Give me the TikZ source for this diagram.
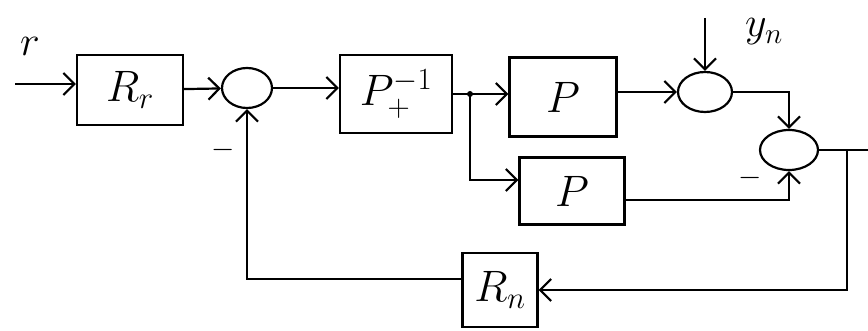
\RequirePackage{fix-cm}
\documentclass[tikz,border=0pt]{standalone}
\usetikzlibrary{arrows.meta,shapes.geometric}
\begin{document}
\begin{tikzpicture}[x=1pt,y=-1pt,
  line width=2.2pt,
  blk/.style={draw,rectangle,inner sep=0pt,font=\fontsize{44}{50}\selectfont},
  sumnode/.style={draw,ellipse,inner sep=0pt},
  arr/.style={-{Straight Barb[length=11pt,width=22pt,line width=2.2pt]}},
  lbl/.style={font=\fontsize{42}{48}\selectfont},
  minus/.style={font=\fontsize{30}{34}\selectfont}]
\useasboundingbox (0,0) rectangle (868,331);
% blocks
\node[blk,minimum width=106pt,minimum height=70pt] (Rr) at (130,90) {$R_r$};
\node[sumnode,minimum width=50pt,minimum height=40pt] (S1) at (247,88) {};
\node[blk,minimum width=112pt,minimum height=78pt] (Pinv) at (396,94) {$P_+^{-1}$};
\node[blk,minimum width=107pt,minimum height=79pt] (Ptop) at (563,97) {$P$};
\node[blk,minimum width=105pt,minimum height=67pt] (Pbot) at (572,191) {$P$};
\node[sumnode,minimum width=54pt,minimum height=40pt] (S2) at (705,92) {};
\node[sumnode,minimum width=58pt,minimum height=40pt] (S3) at (789,150) {};
\node[blk,minimum width=75pt,minimum height=74pt] (Rn) at (500,290) {$R_n$};
% labels
\node[lbl] (rl) at (30,46) {$r$};
\node[lbl] (ynl) at (764,32) {$y_n$};
\node[minus] (m1) at (223,150) {$-$};
\node[minus] (m2) at (750,178) {$-$};
% coordinates
\coordinate (in) at (15,84);
\coordinate (J) at (470,94);
\coordinate (yn) at (705,18);
\coordinate (out) at (868,150);
\coordinate (B) at (847,150);
% connectors
\draw[arr] (in) -- (in -| Rr.west);
\draw[arr] (Rr) -- (S1);
\draw[arr] (S1.east) -- (S1.east -| Pinv.west);
\draw (Pinv.east) -- (J);
\fill (J) circle (3pt);
\draw[arr] (J) -- (J -| Ptop.west);
\draw[arr] (J) |- ([yshift=11pt]Pbot.west);
\draw[arr] (Ptop.east |- S2.west) -- (S2.west);
\draw[arr] (yn) -- (S2.north);
\draw[arr] (S2.east) -| (S3.north);
\draw[arr] ([yshift=-9pt]Pbot.east) -| (S3.south);
\draw (S3.east) -- (out);
\draw[arr] (B) |- (Rn.east);
\draw[arr] ([yshift=11pt]Rn.west) -| (S1.south);
\end{tikzpicture}
\end{document}
